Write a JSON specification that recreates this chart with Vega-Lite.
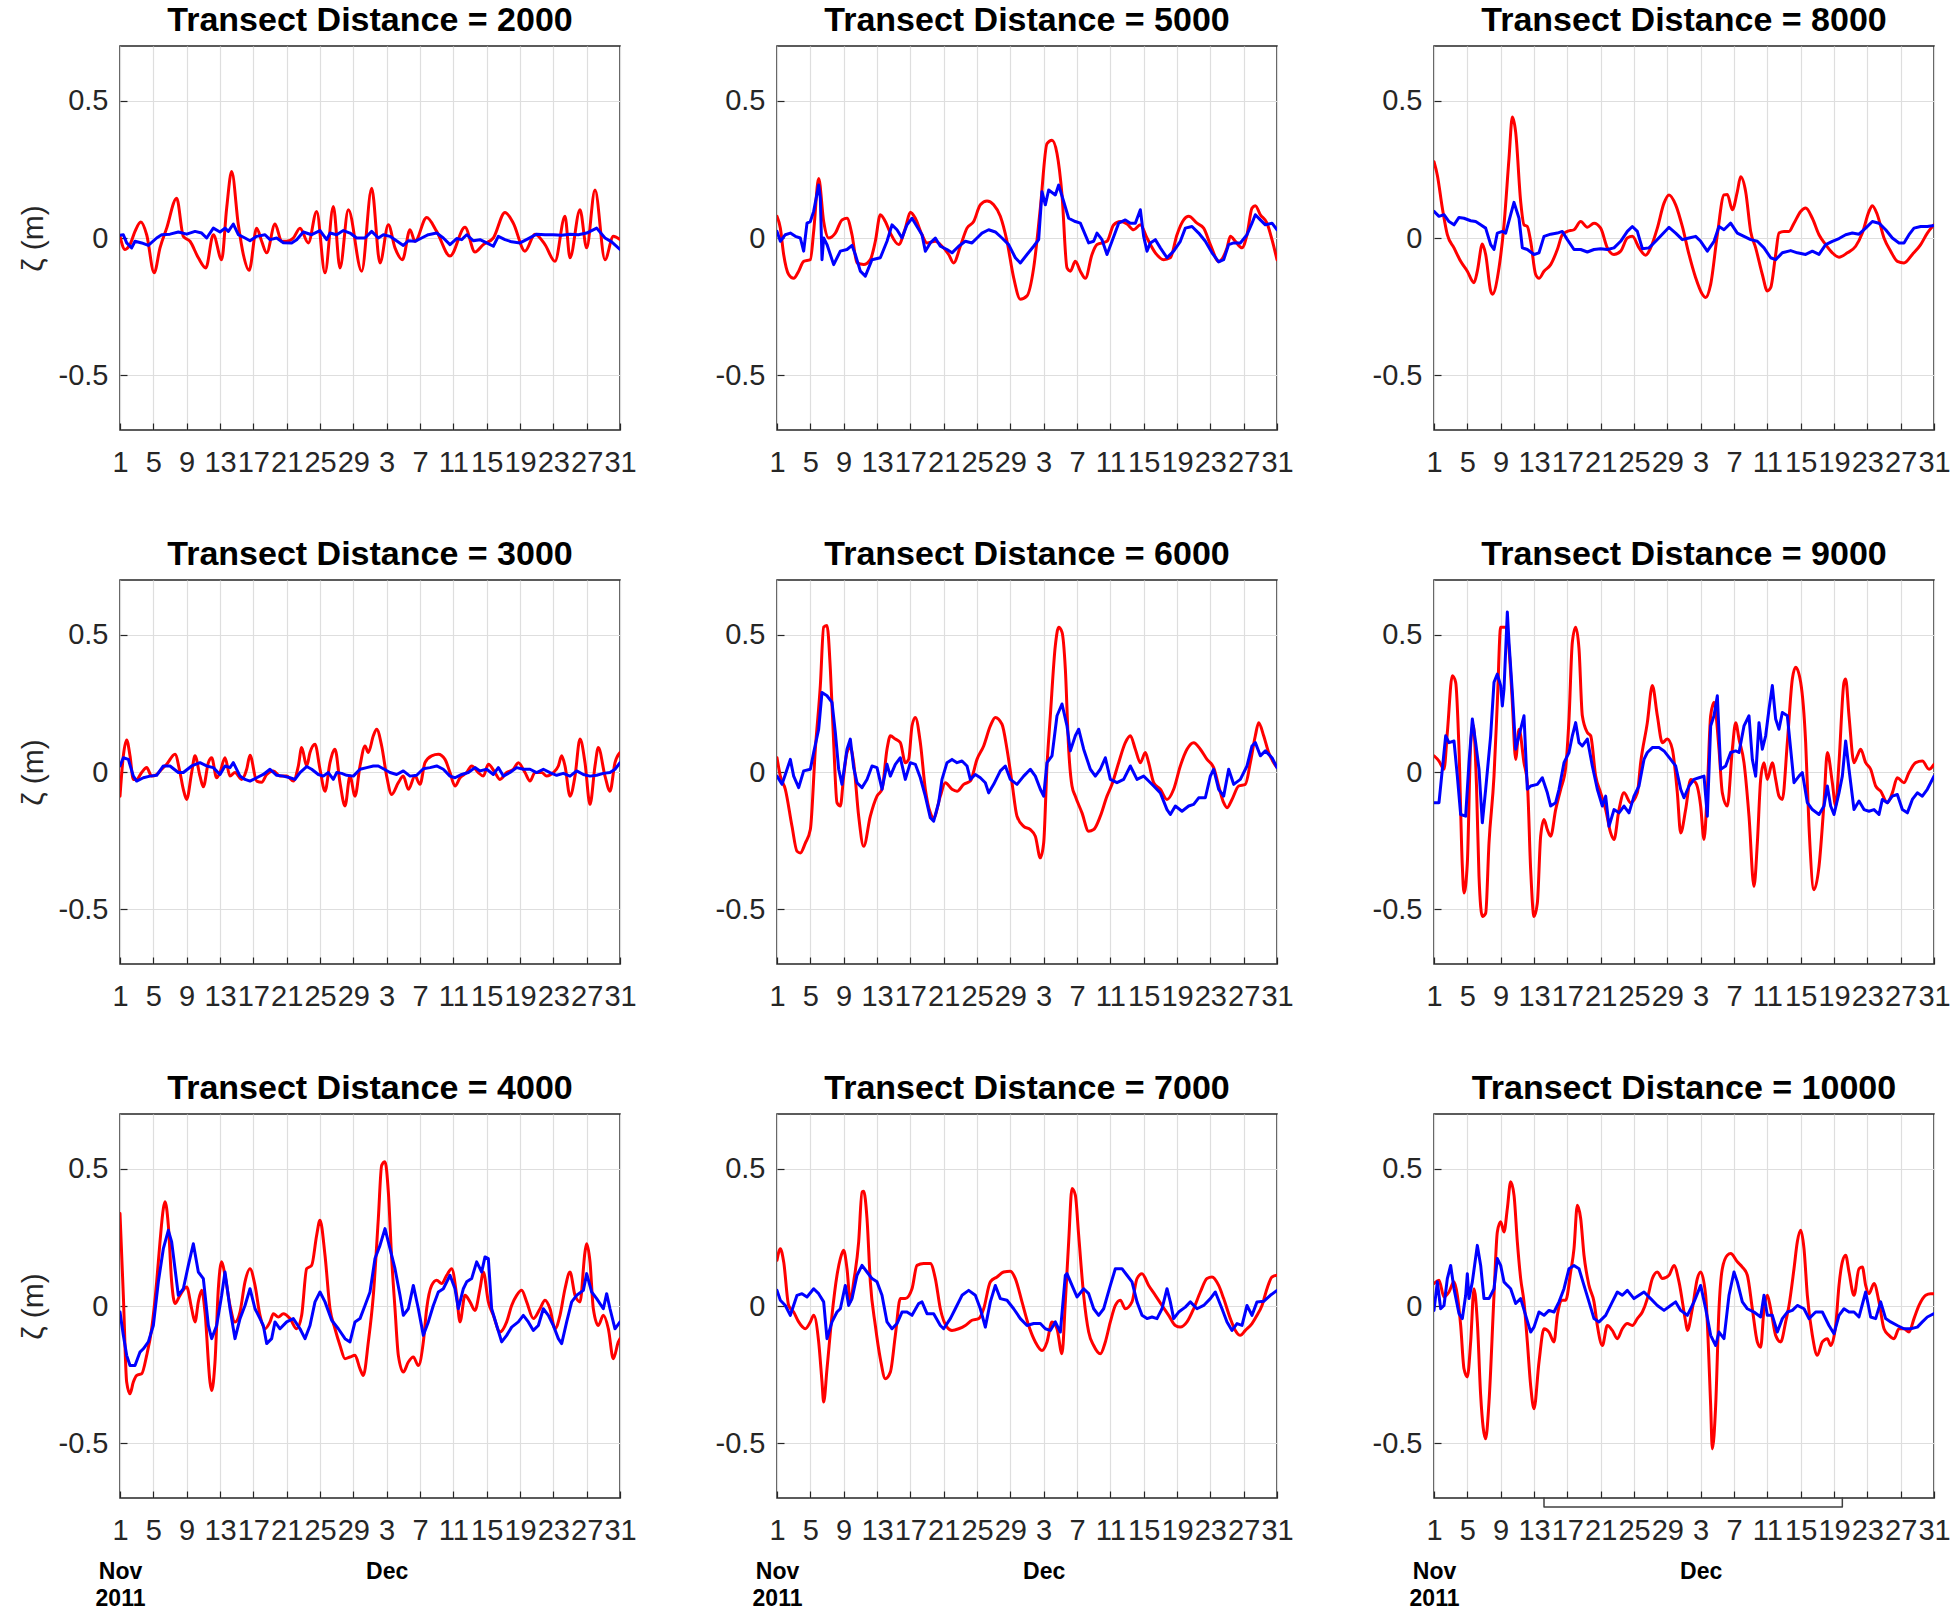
{
  "$schema": "https://vega.github.io/schema/vega-lite/v6.json",
  "padding": {"left": 17, "top": 3, "right": 0, "bottom": 0},
  "bounds": "flush",
  "spacing": {"row": 150, "column": 157},
  "columns": 3,
  "concat": [
    {
      "title": "Transect Distance = 2000",
      "width": 500, "height": 384,
      "encoding": {
        "x": {"field": "t", "type": "quantitative", "scale": {"domain": [0, 60], "nice": false, "zero": false},
              "axis": {"values": [0,4,8,12,16,20,24,28,32,36,40,44,48,52,56,60], "labelExpr": "datum.value < 30 ? datum.value + 1 : datum.value - 29", "title": null, "labelOverlap": false, "labelFlush": false, "labelBound": false, "labelPadding": 25}},
        "y": {"field": "v", "type": "quantitative", "scale": {"domain": [-0.7, 0.7], "nice": false, "zero": false},
              "axis": {"values": [-0.5, 0, 0.5], "labelExpr": "'' + datum.value", "title": "ζ (m)", "titlePadding": 10, "labelPadding": 19}}
      },
      "layer": [
        {"data": {"name": "r2000"}, "mark": {"type": "line", "color": "#ff0000", "strokeWidth": 3, "interpolate": "monotone", "clip": true}},
        {"data": {"name": "b2000"}, "mark": {"type": "line", "color": "#0000ff", "strokeWidth": 3, "clip": true}}
      ]
    },
    {
      "title": "Transect Distance = 5000",
      "width": 500, "height": 384,
      "encoding": {
        "x": {"field": "t", "type": "quantitative", "scale": {"domain": [0, 60], "nice": false, "zero": false},
              "axis": {"values": [0,4,8,12,16,20,24,28,32,36,40,44,48,52,56,60], "labelExpr": "datum.value < 30 ? datum.value + 1 : datum.value - 29", "title": null, "labelOverlap": false, "labelFlush": false, "labelBound": false, "labelPadding": 25}},
        "y": {"field": "v", "type": "quantitative", "scale": {"domain": [-0.7, 0.7], "nice": false, "zero": false},
              "axis": {"values": [-0.5, 0, 0.5], "labelExpr": "'' + datum.value", "title": null, "labelPadding": 19}}
      },
      "layer": [
        {"data": {"name": "r5000"}, "mark": {"type": "line", "color": "#ff0000", "strokeWidth": 3, "interpolate": "monotone", "clip": true}},
        {"data": {"name": "b5000"}, "mark": {"type": "line", "color": "#0000ff", "strokeWidth": 3, "clip": true}}
      ]
    },
    {
      "title": "Transect Distance = 8000",
      "width": 500, "height": 384,
      "encoding": {
        "x": {"field": "t", "type": "quantitative", "scale": {"domain": [0, 60], "nice": false, "zero": false},
              "axis": {"values": [0,4,8,12,16,20,24,28,32,36,40,44,48,52,56,60], "labelExpr": "datum.value < 30 ? datum.value + 1 : datum.value - 29", "title": null, "labelOverlap": false, "labelFlush": false, "labelBound": false, "labelPadding": 25}},
        "y": {"field": "v", "type": "quantitative", "scale": {"domain": [-0.7, 0.7], "nice": false, "zero": false},
              "axis": {"values": [-0.5, 0, 0.5], "labelExpr": "'' + datum.value", "title": null, "labelPadding": 19}}
      },
      "layer": [
        {"data": {"name": "r8000"}, "mark": {"type": "line", "color": "#ff0000", "strokeWidth": 3, "interpolate": "monotone", "clip": true}},
        {"data": {"name": "b8000"}, "mark": {"type": "line", "color": "#0000ff", "strokeWidth": 3, "clip": true}}
      ]
    },
    {
      "title": "Transect Distance = 3000",
      "width": 500, "height": 384,
      "encoding": {
        "x": {"field": "t", "type": "quantitative", "scale": {"domain": [0, 60], "nice": false, "zero": false},
              "axis": {"values": [0,4,8,12,16,20,24,28,32,36,40,44,48,52,56,60], "labelExpr": "datum.value < 30 ? datum.value + 1 : datum.value - 29", "title": null, "labelOverlap": false, "labelFlush": false, "labelBound": false, "labelPadding": 25}},
        "y": {"field": "v", "type": "quantitative", "scale": {"domain": [-0.7, 0.7], "nice": false, "zero": false},
              "axis": {"values": [-0.5, 0, 0.5], "labelExpr": "'' + datum.value", "title": "ζ (m)", "titlePadding": 10, "labelPadding": 19}}
      },
      "layer": [
        {"data": {"name": "r3000"}, "mark": {"type": "line", "color": "#ff0000", "strokeWidth": 3, "interpolate": "monotone", "clip": true}},
        {"data": {"name": "b3000"}, "mark": {"type": "line", "color": "#0000ff", "strokeWidth": 3, "clip": true}}
      ]
    },
    {
      "title": "Transect Distance = 6000",
      "width": 500, "height": 384,
      "encoding": {
        "x": {"field": "t", "type": "quantitative", "scale": {"domain": [0, 60], "nice": false, "zero": false},
              "axis": {"values": [0,4,8,12,16,20,24,28,32,36,40,44,48,52,56,60], "labelExpr": "datum.value < 30 ? datum.value + 1 : datum.value - 29", "title": null, "labelOverlap": false, "labelFlush": false, "labelBound": false, "labelPadding": 25}},
        "y": {"field": "v", "type": "quantitative", "scale": {"domain": [-0.7, 0.7], "nice": false, "zero": false},
              "axis": {"values": [-0.5, 0, 0.5], "labelExpr": "'' + datum.value", "title": null, "labelPadding": 19}}
      },
      "layer": [
        {"data": {"name": "r6000"}, "mark": {"type": "line", "color": "#ff0000", "strokeWidth": 3, "interpolate": "monotone", "clip": true}},
        {"data": {"name": "b6000"}, "mark": {"type": "line", "color": "#0000ff", "strokeWidth": 3, "clip": true}}
      ]
    },
    {
      "title": "Transect Distance = 9000",
      "width": 500, "height": 384,
      "encoding": {
        "x": {"field": "t", "type": "quantitative", "scale": {"domain": [0, 60], "nice": false, "zero": false},
              "axis": {"values": [0,4,8,12,16,20,24,28,32,36,40,44,48,52,56,60], "labelExpr": "datum.value < 30 ? datum.value + 1 : datum.value - 29", "title": null, "labelOverlap": false, "labelFlush": false, "labelBound": false, "labelPadding": 25}},
        "y": {"field": "v", "type": "quantitative", "scale": {"domain": [-0.7, 0.7], "nice": false, "zero": false},
              "axis": {"values": [-0.5, 0, 0.5], "labelExpr": "'' + datum.value", "title": null, "labelPadding": 19}}
      },
      "layer": [
        {"data": {"name": "r9000"}, "mark": {"type": "line", "color": "#ff0000", "strokeWidth": 3, "interpolate": "monotone", "clip": true}},
        {"data": {"name": "b9000"}, "mark": {"type": "line", "color": "#0000ff", "strokeWidth": 3, "clip": true}}
      ]
    },
    {
      "title": "Transect Distance = 4000",
      "width": 500, "height": 384,
      "encoding": {
        "x": {"field": "t", "type": "quantitative", "scale": {"domain": [0, 60], "nice": false, "zero": false},
              "axis": {"values": [0,4,8,12,16,20,24,28,32,36,40,44,48,52,56,60], "labelExpr": "datum.value < 30 ? datum.value + 1 : datum.value - 29", "title": null, "labelOverlap": false, "labelFlush": false, "labelBound": false, "labelPadding": 25}},
        "y": {"field": "v", "type": "quantitative", "scale": {"domain": [-0.7, 0.7], "nice": false, "zero": false},
              "axis": {"values": [-0.5, 0, 0.5], "labelExpr": "'' + datum.value", "title": "ζ (m)", "titlePadding": 10, "labelPadding": 19}}
      },
      "layer": [
        {"data": {"name": "r4000"}, "mark": {"type": "line", "color": "#ff0000", "strokeWidth": 3, "interpolate": "monotone", "clip": true}},
        {"data": {"name": "b4000"}, "mark": {"type": "line", "color": "#0000ff", "strokeWidth": 3, "clip": true},
         "encoding": {"x": {"field": "t", "type": "quantitative", "scale": {"domain": [0, 60], "nice": false, "zero": false},
           "axis": {"orient": "bottom", "values": [0, 32], "labelExpr": "datum.value == 0 ? ['Nov', '2011'] : 'Dec'", "title": null, "grid": false, "ticks": false, "labelFontWeight": "bold", "labelFontSize": 23, "labelColor": "#000000", "labelBaseline": "middle", "labelLineHeight": 27, "offset": 73, "labelPadding": 0, "labelOverlap": false, "labelFlush": false, "labelBound": false}}}}
      ],
      "resolve": {"axis": {"x": "independent"}}
    },
    {
      "title": "Transect Distance = 7000",
      "width": 500, "height": 384,
      "encoding": {
        "x": {"field": "t", "type": "quantitative", "scale": {"domain": [0, 60], "nice": false, "zero": false},
              "axis": {"values": [0,4,8,12,16,20,24,28,32,36,40,44,48,52,56,60], "labelExpr": "datum.value < 30 ? datum.value + 1 : datum.value - 29", "title": null, "labelOverlap": false, "labelFlush": false, "labelBound": false, "labelPadding": 25}},
        "y": {"field": "v", "type": "quantitative", "scale": {"domain": [-0.7, 0.7], "nice": false, "zero": false},
              "axis": {"values": [-0.5, 0, 0.5], "labelExpr": "'' + datum.value", "title": null, "labelPadding": 19}}
      },
      "layer": [
        {"data": {"name": "r7000"}, "mark": {"type": "line", "color": "#ff0000", "strokeWidth": 3, "interpolate": "monotone", "clip": true}},
        {"data": {"name": "b7000"}, "mark": {"type": "line", "color": "#0000ff", "strokeWidth": 3, "clip": true},
         "encoding": {"x": {"field": "t", "type": "quantitative", "scale": {"domain": [0, 60], "nice": false, "zero": false},
           "axis": {"orient": "bottom", "values": [0, 32], "labelExpr": "datum.value == 0 ? ['Nov', '2011'] : 'Dec'", "title": null, "grid": false, "ticks": false, "labelFontWeight": "bold", "labelFontSize": 23, "labelColor": "#000000", "labelBaseline": "middle", "labelLineHeight": 27, "offset": 73, "labelPadding": 0, "labelOverlap": false, "labelFlush": false, "labelBound": false}}}}
      ],
      "resolve": {"axis": {"x": "independent"}}
    },
    {
      "title": "Transect Distance = 10000",
      "width": 500, "height": 384,
      "encoding": {
        "x": {"field": "t", "type": "quantitative", "scale": {"domain": [0, 60], "nice": false, "zero": false},
              "axis": {"values": [0,4,8,12,16,20,24,28,32,36,40,44,48,52,56,60], "labelExpr": "datum.value < 30 ? datum.value + 1 : datum.value - 29", "title": null, "labelOverlap": false, "labelFlush": false, "labelBound": false, "labelPadding": 25}},
        "y": {"field": "v", "type": "quantitative", "scale": {"domain": [-0.7, 0.7], "nice": false, "zero": false},
              "axis": {"values": [-0.5, 0, 0.5], "labelExpr": "'' + datum.value", "title": null, "labelPadding": 19}}
      },
      "layer": [
        {"data": {"name": "r10000"}, "mark": {"type": "line", "color": "#ff0000", "strokeWidth": 3, "interpolate": "monotone", "clip": true}},
        {"data": {"name": "b10000"}, "mark": {"type": "line", "color": "#0000ff", "strokeWidth": 3, "clip": true},
         "encoding": {"x": {"field": "t", "type": "quantitative", "scale": {"domain": [0, 60], "nice": false, "zero": false},
           "axis": {"orient": "bottom", "values": [0, 32], "labelExpr": "datum.value == 0 ? ['Nov', '2011'] : 'Dec'", "title": null, "grid": false, "ticks": false, "labelFontWeight": "bold", "labelFontSize": 23, "labelColor": "#000000", "labelBaseline": "middle", "labelLineHeight": 27, "offset": 73, "labelPadding": 0, "labelOverlap": false, "labelFlush": false, "labelBound": false}}}},
        {"data": {"name": "bracket"}, "mark": {"type": "line", "color": "#404040", "strokeWidth": 1.5, "clip": false},
         "encoding": {
           "x": {"field": "t", "type": "quantitative", "scale": {"domain": [0, 60], "nice": false, "zero": false}, "axis": null},
           "order": {"field": "i"}}}
      ],
      "resolve": {"axis": {"x": "independent"}}
    }
  ],
  "datasets": {
    "bracket": [{"i":1,"t":13.2,"v":-0.7},{"i":2,"t":13.2,"v":-0.733},{"i":3,"t":49,"v":-0.733},{"i":4,"t":49,"v":-0.7}],
    "r2000": [{"t":0,"v":0.006},{"t":0.6,"v":-0.042},{"t":1.2,"v":-0.024},{"t":1.8,"v":0.024},{"t":2.5,"v":0.058},{"t":3.2,"v":0.012},{"t":4.1,"v":-0.127},{"t":4.8,"v":-0.036},{"t":5.6,"v":0.036},{"t":6.8,"v":0.145},{"t":7.6,"v":0.006},{"t":8.4,"v":-0.012},{"t":9.4,"v":-0.072},{"t":10.3,"v":-0.109},{"t":11.2,"v":0.012},{"t":12.2,"v":-0.079},{"t":12.8,"v":0.109},{"t":13.4,"v":0.242},{"t":14.2,"v":0.048},{"t":14.8,"v":-0.06},{"t":15.5,"v":-0.118},{"t":16.4,"v":0.036},{"t":17,"v":-0.012},{"t":17.6,"v":-0.054},{"t":18.6,"v":0.051},{"t":19.4,"v":-0.012},{"t":20,"v":-0.012},{"t":20.8,"v":0},{"t":21.6,"v":0.036},{"t":22.6,"v":-0.018},{"t":23.6,"v":0.097},{"t":24.6,"v":-0.127},{"t":25.6,"v":0.115},{"t":26.4,"v":-0.109},{"t":27.4,"v":0.103},{"t":29,"v":-0.121},{"t":30.2,"v":0.181},{"t":31.2,"v":-0.091},{"t":32.2,"v":0.048},{"t":33,"v":-0.036},{"t":33.9,"v":-0.079},{"t":34.8,"v":0.03},{"t":35.4,"v":-0.012},{"t":36.8,"v":0.075},{"t":38,"v":0.024},{"t":39.6,"v":-0.066},{"t":41.4,"v":0.039},{"t":42.6,"v":-0.051},{"t":43.6,"v":-0.024},{"t":44.8,"v":0},{"t":46.2,"v":0.093},{"t":47.2,"v":0.054},{"t":48.6,"v":-0.048},{"t":49.8,"v":0.014},{"t":51,"v":-0.024},{"t":52.2,"v":-0.085},{"t":53.4,"v":0.079},{"t":54,"v":-0.072},{"t":55.2,"v":0.103},{"t":56,"v":-0.036},{"t":57,"v":0.175},{"t":58.2,"v":-0.079},{"t":59.2,"v":0.006},{"t":60,"v":-0.006}],
    "b2000": [{"t":0,"v":0.01},{"t":0.4,"v":0.012},{"t":0.8,"v":-0.018},{"t":1.4,"v":-0.036},{"t":1.8,"v":-0.012},{"t":2.6,"v":-0.018},{"t":3.4,"v":-0.027},{"t":4.4,"v":0},{"t":5,"v":0.012},{"t":6,"v":0.014},{"t":7,"v":0.022},{"t":8,"v":0.014},{"t":9,"v":0.024},{"t":9.8,"v":0.018},{"t":10.4,"v":0},{"t":11.2,"v":0.036},{"t":12,"v":0.022},{"t":12.6,"v":0.036},{"t":13,"v":0.024},{"t":13.6,"v":0.051},{"t":14.2,"v":0.012},{"t":15,"v":0},{"t":15.6,"v":-0.01},{"t":16.4,"v":0.006},{"t":17.4,"v":0.012},{"t":18,"v":-0.006},{"t":18.8,"v":0},{"t":19.6,"v":-0.017},{"t":20.6,"v":-0.018},{"t":21.2,"v":-0.006},{"t":22,"v":0.022},{"t":23,"v":0.012},{"t":24,"v":0.027},{"t":24.8,"v":-0.006},{"t":25.2,"v":0.018},{"t":26,"v":0.012},{"t":26.8,"v":0.027},{"t":27.6,"v":0.018},{"t":28.4,"v":0},{"t":29.4,"v":0},{"t":30.2,"v":0.024},{"t":31,"v":0},{"t":31.6,"v":0.012},{"t":32.4,"v":0.006},{"t":33,"v":-0.006},{"t":34,"v":-0.027},{"t":34.6,"v":-0.01},{"t":35.4,"v":-0.012},{"t":36.2,"v":0},{"t":37,"v":0.012},{"t":38,"v":0.018},{"t":38.8,"v":0},{"t":39.6,"v":-0.024},{"t":40.4,"v":-0.002},{"t":41,"v":-0.006},{"t":41.6,"v":0.012},{"t":42.4,"v":-0.01},{"t":43.2,"v":-0.006},{"t":44,"v":-0.018},{"t":44.8,"v":-0.03},{"t":45.4,"v":0.006},{"t":46.2,"v":-0.006},{"t":47,"v":-0.014},{"t":48,"v":-0.018},{"t":49,"v":-0.002},{"t":50,"v":0.014},{"t":51,"v":0.012},{"t":52,"v":0.012},{"t":53,"v":0.01},{"t":54,"v":0.014},{"t":55,"v":0.012},{"t":56,"v":0.018},{"t":57.2,"v":0.036},{"t":58.2,"v":0},{"t":59,"v":-0.014},{"t":60,"v":-0.042}],
    "r5000": [{"t":0,"v":0.079},{"t":0.4,"v":0.036},{"t":0.8,"v":-0.06},{"t":1.4,"v":-0.133},{"t":2,"v":-0.147},{"t":2.6,"v":-0.121},{"t":3.2,"v":-0.085},{"t":4,"v":-0.079},{"t":4.4,"v":0.024},{"t":5,"v":0.217},{"t":5.6,"v":0.06},{"t":6.2,"v":0},{"t":7,"v":0.018},{"t":7.8,"v":0.066},{"t":8.4,"v":0.072},{"t":9,"v":0.012},{"t":9.6,"v":-0.091},{"t":10.4,"v":-0.097},{"t":11.2,"v":-0.079},{"t":11.8,"v":-0.012},{"t":12.4,"v":0.085},{"t":13,"v":0.06},{"t":13.6,"v":0.018},{"t":14.6,"v":-0.024},{"t":15.4,"v":0.036},{"t":16,"v":0.094},{"t":16.6,"v":0.072},{"t":17.4,"v":0.012},{"t":18,"v":-0.018},{"t":19,"v":-0.012},{"t":19.6,"v":-0.024},{"t":20.6,"v":-0.06},{"t":21.2,"v":-0.091},{"t":22,"v":-0.03},{"t":22.8,"v":0.036},{"t":23.6,"v":0.06},{"t":24.4,"v":0.121},{"t":25.2,"v":0.135},{"t":26,"v":0.121},{"t":26.8,"v":0.079},{"t":27.6,"v":-0.012},{"t":28.4,"v":-0.145},{"t":29.2,"v":-0.223},{"t":30,"v":-0.211},{"t":30.8,"v":-0.109},{"t":31.6,"v":0.109},{"t":32.4,"v":0.344},{"t":33,"v":0.356},{"t":33.6,"v":0.308},{"t":34.2,"v":0.157},{"t":34.8,"v":-0.109},{"t":35.2,"v":-0.121},{"t":35.8,"v":-0.085},{"t":36.4,"v":-0.121},{"t":37,"v":-0.147},{"t":37.8,"v":-0.06},{"t":38.4,"v":-0.024},{"t":39.6,"v":-0.012},{"t":40.4,"v":0.048},{"t":41.2,"v":0.06},{"t":42,"v":0.051},{"t":42.8,"v":0.03},{"t":43.6,"v":0.048},{"t":44.4,"v":0},{"t":45.4,"v":-0.054},{"t":46.4,"v":-0.079},{"t":47.2,"v":-0.072},{"t":48,"v":0.012},{"t":48.8,"v":0.066},{"t":49.4,"v":0.079},{"t":50.4,"v":0.054},{"t":51.2,"v":0.036},{"t":52,"v":-0.024},{"t":53,"v":-0.085},{"t":54,"v":-0.036},{"t":54.4,"v":0.006},{"t":55,"v":-0.012},{"t":55.8,"v":-0.036},{"t":56.4,"v":0.012},{"t":57,"v":0.109},{"t":57.4,"v":0.118},{"t":58,"v":0.085},{"t":58.8,"v":0.054},{"t":59.4,"v":-0.006},{"t":60,"v":-0.079}],
    "b5000": [{"t":0,"v":0.024},{"t":0.4,"v":-0.012},{"t":1,"v":0.012},{"t":1.6,"v":0.018},{"t":2.2,"v":0.006},{"t":2.8,"v":0},{"t":3.2,"v":-0.048},{"t":3.6,"v":0.054},{"t":4,"v":0.06},{"t":4.4,"v":0.097},{"t":5,"v":0.193},{"t":5.2,"v":0.145},{"t":5.4,"v":-0.079},{"t":5.6,"v":0},{"t":6,"v":-0.024},{"t":6.8,"v":-0.097},{"t":7.6,"v":-0.048},{"t":8.4,"v":-0.042},{"t":9,"v":-0.027},{"t":9.4,"v":-0.06},{"t":10,"v":-0.121},{"t":10.6,"v":-0.139},{"t":11.4,"v":-0.079},{"t":12.4,"v":-0.072},{"t":13.2,"v":-0.012},{"t":13.8,"v":0.048},{"t":14.4,"v":0.03},{"t":15,"v":0},{"t":15.6,"v":0.048},{"t":16.2,"v":0.072},{"t":16.8,"v":0.042},{"t":17.4,"v":0.012},{"t":17.8,"v":-0.048},{"t":18.4,"v":-0.018},{"t":19,"v":0},{"t":19.6,"v":-0.03},{"t":20.4,"v":-0.042},{"t":21,"v":-0.054},{"t":21.8,"v":-0.03},{"t":22.6,"v":-0.012},{"t":23.4,"v":-0.018},{"t":24,"v":0},{"t":24.6,"v":0.018},{"t":25.4,"v":0.03},{"t":26.2,"v":0.022},{"t":27,"v":0},{"t":27.8,"v":-0.024},{"t":28.6,"v":-0.072},{"t":29.2,"v":-0.091},{"t":30,"v":-0.06},{"t":30.8,"v":-0.03},{"t":31.4,"v":-0.006},{"t":31.8,"v":0.169},{"t":32.2,"v":0.121},{"t":32.6,"v":0.175},{"t":33.4,"v":0.157},{"t":33.8,"v":0.193},{"t":34.4,"v":0.133},{"t":35,"v":0.072},{"t":35.8,"v":0.06},{"t":36.4,"v":0.054},{"t":37.4,"v":-0.018},{"t":38,"v":-0.012},{"t":38.4,"v":0.018},{"t":39,"v":-0.006},{"t":39.6,"v":-0.06},{"t":40.2,"v":-0.012},{"t":41,"v":0.054},{"t":41.8,"v":0.066},{"t":42.4,"v":0.054},{"t":43,"v":0.054},{"t":43.6,"v":0.103},{"t":44,"v":0.006},{"t":44.4,"v":-0.048},{"t":44.8,"v":-0.018},{"t":45.4,"v":-0.006},{"t":46,"v":-0.036},{"t":46.8,"v":-0.072},{"t":47.6,"v":-0.048},{"t":48.4,"v":-0.012},{"t":49,"v":0.036},{"t":49.8,"v":0.042},{"t":50.6,"v":0.018},{"t":51.4,"v":-0.012},{"t":52.2,"v":-0.054},{"t":53,"v":-0.087},{"t":53.6,"v":-0.079},{"t":54.2,"v":-0.024},{"t":54.8,"v":-0.018},{"t":55.6,"v":-0.018},{"t":56.4,"v":0.012},{"t":57,"v":0.054},{"t":57.4,"v":0.085},{"t":58,"v":0.066},{"t":58.6,"v":0.048},{"t":59.4,"v":0.054},{"t":60,"v":0.03}],
    "r8000": [{"t":0,"v":0.278},{"t":0.4,"v":0.229},{"t":1,"v":0.109},{"t":1.6,"v":0.012},{"t":2.4,"v":-0.036},{"t":3.2,"v":-0.085},{"t":4,"v":-0.121},{"t":4.8,"v":-0.163},{"t":5.2,"v":-0.121},{"t":5.8,"v":-0.022},{"t":6.2,"v":-0.06},{"t":6.8,"v":-0.193},{"t":7,"v":-0.205},{"t":7.8,"v":-0.109},{"t":8.4,"v":0.048},{"t":9,"v":0.29},{"t":9.4,"v":0.441},{"t":9.8,"v":0.386},{"t":10.4,"v":0.133},{"t":10.8,"v":0.048},{"t":11.2,"v":0.042},{"t":11.6,"v":-0.012},{"t":12.2,"v":-0.133},{"t":12.6,"v":-0.147},{"t":13.2,"v":-0.121},{"t":14,"v":-0.097},{"t":14.8,"v":-0.042},{"t":15.4,"v":0.012},{"t":16,"v":0.024},{"t":16.8,"v":0.03},{"t":17.6,"v":0.06},{"t":18.4,"v":0.039},{"t":19.2,"v":0.054},{"t":20,"v":0.036},{"t":20.8,"v":-0.036},{"t":21.6,"v":-0.06},{"t":22.4,"v":-0.048},{"t":23.2,"v":0},{"t":23.8,"v":0.006},{"t":24.6,"v":-0.036},{"t":25.4,"v":-0.063},{"t":26,"v":-0.036},{"t":26.8,"v":0.036},{"t":27.6,"v":0.127},{"t":28.2,"v":0.157},{"t":29,"v":0.121},{"t":29.8,"v":0.042},{"t":30.6,"v":-0.06},{"t":31.4,"v":-0.145},{"t":32.2,"v":-0.205},{"t":32.6,"v":-0.217},{"t":33.2,"v":-0.169},{"t":34,"v":0.012},{"t":34.8,"v":0.157},{"t":35.2,"v":0.159},{"t":35.8,"v":0.103},{"t":36.4,"v":0.169},{"t":36.8,"v":0.223},{"t":37.4,"v":0.169},{"t":38,"v":0.024},{"t":38.6,"v":-0.036},{"t":39.4,"v":-0.133},{"t":40,"v":-0.193},{"t":40.4,"v":-0.181},{"t":41,"v":-0.06},{"t":41.4,"v":0.018},{"t":42,"v":0.024},{"t":42.6,"v":0.024},{"t":43.2,"v":0.054},{"t":44,"v":0.097},{"t":44.6,"v":0.109},{"t":45.4,"v":0.072},{"t":46.2,"v":0.012},{"t":47,"v":-0.024},{"t":47.8,"v":-0.054},{"t":48.6,"v":-0.07},{"t":49.6,"v":-0.054},{"t":50.6,"v":-0.03},{"t":51.4,"v":0.018},{"t":52.2,"v":0.097},{"t":52.6,"v":0.118},{"t":53.2,"v":0.085},{"t":54,"v":0},{"t":54.8,"v":-0.048},{"t":55.6,"v":-0.085},{"t":56.4,"v":-0.091},{"t":57.4,"v":-0.06},{"t":58.4,"v":-0.024},{"t":59.2,"v":0.018},{"t":60,"v":0.048}],
    "b8000": [{"t":0,"v":0.097},{"t":0.6,"v":0.079},{"t":1.2,"v":0.085},{"t":1.8,"v":0.06},{"t":2.4,"v":0.048},{"t":3,"v":0.075},{"t":3.6,"v":0.072},{"t":4.4,"v":0.063},{"t":5,"v":0.06},{"t":5.6,"v":0.048},{"t":6.2,"v":0.036},{"t":6.8,"v":-0.024},{"t":7.2,"v":-0.042},{"t":7.6,"v":0.018},{"t":8.2,"v":0.024},{"t":8.6,"v":0.018},{"t":9.2,"v":0.085},{"t":9.6,"v":0.13},{"t":10.2,"v":0.072},{"t":10.6,"v":-0.036},{"t":11.2,"v":-0.042},{"t":12,"v":-0.06},{"t":12.6,"v":-0.054},{"t":13.2,"v":0.006},{"t":14,"v":0.014},{"t":14.8,"v":0.018},{"t":15.4,"v":0.024},{"t":16,"v":-0.006},{"t":16.8,"v":-0.042},{"t":17.6,"v":-0.042},{"t":18.4,"v":-0.051},{"t":19.2,"v":-0.042},{"t":20,"v":-0.039},{"t":20.8,"v":-0.042},{"t":21.6,"v":-0.036},{"t":22.4,"v":-0.012},{"t":23.2,"v":0.024},{"t":23.8,"v":0.042},{"t":24.4,"v":0.024},{"t":25,"v":-0.039},{"t":25.8,"v":-0.036},{"t":26.6,"v":-0.012},{"t":27.4,"v":0.014},{"t":28.2,"v":0.039},{"t":29,"v":0.018},{"t":29.8,"v":-0.006},{"t":30.6,"v":0},{"t":31.4,"v":0.006},{"t":32,"v":-0.012},{"t":32.8,"v":-0.048},{"t":33.6,"v":-0.012},{"t":34.2,"v":0.042},{"t":34.8,"v":0.03},{"t":35.6,"v":0.054},{"t":36.4,"v":0.018},{"t":37.2,"v":0.006},{"t":38,"v":-0.006},{"t":38.8,"v":-0.012},{"t":39.6,"v":-0.036},{"t":40.4,"v":-0.072},{"t":41,"v":-0.079},{"t":41.8,"v":-0.054},{"t":42.8,"v":-0.046},{"t":43.6,"v":-0.054},{"t":44.6,"v":-0.06},{"t":45.4,"v":-0.048},{"t":46.2,"v":-0.06},{"t":47,"v":-0.024},{"t":47.8,"v":-0.012},{"t":48.6,"v":-0.002},{"t":49.4,"v":0.012},{"t":50.2,"v":0.018},{"t":51,"v":0.014},{"t":51.8,"v":0.036},{"t":52.6,"v":0.06},{"t":53.4,"v":0.054},{"t":54.2,"v":0.03},{"t":55,"v":0},{"t":55.8,"v":-0.018},{"t":56.4,"v":-0.018},{"t":57,"v":0.012},{"t":57.6,"v":0.036},{"t":58.4,"v":0.042},{"t":59.2,"v":0.042},{"t":60,"v":0.046}],
    "r3000": [{"t":0,"v":-0.088},{"t":0.4,"v":0.059},{"t":0.8,"v":0.117},{"t":1.2,"v":0.059},{"t":1.6,"v":-0.027},{"t":2,"v":-0.027},{"t":2.6,"v":-0.002},{"t":3.2,"v":0.016},{"t":3.8,"v":-0.015},{"t":4.4,"v":-0.009},{"t":5,"v":0.01},{"t":5.6,"v":0.028},{"t":6.6,"v":0.065},{"t":7.2,"v":-0.002},{"t":7.6,"v":-0.063},{"t":8,"v":-0.1},{"t":8.6,"v":-0.002},{"t":9,"v":0.059},{"t":9.6,"v":-0.015},{"t":10,"v":-0.054},{"t":10.6,"v":0.034},{"t":11,"v":0.052},{"t":11.6,"v":-0.021},{"t":12,"v":-0.002},{"t":12.6,"v":0.052},{"t":13.2,"v":-0.015},{"t":13.8,"v":-0.002},{"t":14.6,"v":-0.027},{"t":15.2,"v":0.01},{"t":15.6,"v":0.061},{"t":16.4,"v":-0.033},{"t":17,"v":-0.037},{"t":17.6,"v":-0.009},{"t":18.4,"v":0.004},{"t":19.2,"v":-0.015},{"t":20,"v":-0.015},{"t":20.8,"v":-0.033},{"t":21.4,"v":0.022},{"t":21.8,"v":0.089},{"t":22.4,"v":0.022},{"t":22.8,"v":0.071},{"t":23.4,"v":0.101},{"t":24,"v":0.01},{"t":24.6,"v":-0.07},{"t":25.2,"v":0.034},{"t":25.8,"v":0.083},{"t":26.4,"v":-0.039},{"t":27,"v":-0.124},{"t":27.6,"v":-0.015},{"t":28.2,"v":-0.088},{"t":28.8,"v":0.022},{"t":29.4,"v":0.095},{"t":29.8,"v":0.071},{"t":30.4,"v":0.132},{"t":30.8,"v":0.156},{"t":31.4,"v":0.095},{"t":32,"v":-0.015},{"t":32.6,"v":-0.082},{"t":33.4,"v":-0.039},{"t":34,"v":-0.015},{"t":34.6,"v":-0.063},{"t":35.4,"v":-0.015},{"t":36,"v":-0.045},{"t":36.6,"v":0.034},{"t":37.4,"v":0.059},{"t":38.2,"v":0.065},{"t":39,"v":0.046},{"t":39.6,"v":-0.002},{"t":40.2,"v":-0.051},{"t":40.8,"v":-0.021},{"t":41.6,"v":-0.002},{"t":42.2,"v":0.022},{"t":43,"v":-0.002},{"t":43.6,"v":-0.015},{"t":44.2,"v":0.028},{"t":45,"v":-0.002},{"t":45.6,"v":-0.027},{"t":46.4,"v":-0.002},{"t":47.2,"v":0.01},{"t":47.8,"v":0.034},{"t":48.6,"v":-0.002},{"t":49.2,"v":-0.033},{"t":49.8,"v":-0.002},{"t":50.6,"v":-0.002},{"t":51.2,"v":-0.015},{"t":52,"v":-0.002},{"t":52.6,"v":0.022},{"t":53,"v":0.059},{"t":53.4,"v":0.022},{"t":54,"v":-0.088},{"t":54.6,"v":-0.015},{"t":55.2,"v":0.12},{"t":55.8,"v":0.034},{"t":56.4,"v":-0.118},{"t":57,"v":0.022},{"t":57.4,"v":0.089},{"t":58.2,"v":-0.015},{"t":58.8,"v":-0.07},{"t":59.4,"v":0.034},{"t":60,"v":0.071}],
    "b3000": [{"t":0,"v":0.022},{"t":0.4,"v":0.052},{"t":1,"v":0.046},{"t":1.6,"v":-0.015},{"t":2,"v":-0.033},{"t":2.8,"v":-0.021},{"t":3.6,"v":-0.015},{"t":4.4,"v":-0.012},{"t":5.2,"v":0.022},{"t":6,"v":0.022},{"t":7,"v":-0.002},{"t":7.6,"v":-0.002},{"t":8.6,"v":0.022},{"t":9.6,"v":0.034},{"t":10.4,"v":0.022},{"t":11.2,"v":0.016},{"t":12,"v":-0.009},{"t":12.6,"v":0.022},{"t":13.2,"v":0.016},{"t":13.6,"v":0.034},{"t":14.4,"v":-0.015},{"t":15,"v":-0.027},{"t":15.6,"v":-0.033},{"t":16.4,"v":-0.021},{"t":17.2,"v":-0.009},{"t":18,"v":0.01},{"t":18.8,"v":-0.012},{"t":19.6,"v":-0.015},{"t":20.4,"v":-0.021},{"t":21,"v":-0.027},{"t":21.6,"v":-0.002},{"t":22.4,"v":0.02},{"t":23,"v":0.01},{"t":23.8,"v":-0.009},{"t":24.4,"v":-0.015},{"t":25,"v":-0.002},{"t":25.6,"v":-0.027},{"t":26,"v":-0.002},{"t":26.6,"v":-0.005},{"t":27.2,"v":-0.012},{"t":28,"v":-0.015},{"t":28.8,"v":0.01},{"t":29.6,"v":0.016},{"t":30.4,"v":0.022},{"t":31,"v":0.022},{"t":31.6,"v":0.012},{"t":32.4,"v":-0.002},{"t":33.2,"v":-0.009},{"t":34,"v":0.004},{"t":34.8,"v":-0.015},{"t":35.6,"v":-0.012},{"t":36.4,"v":0.012},{"t":37.2,"v":0.016},{"t":38,"v":0.022},{"t":38.8,"v":0.01},{"t":39.6,"v":-0.015},{"t":40.2,"v":-0.021},{"t":41,"v":-0.009},{"t":41.8,"v":-0.002},{"t":42.6,"v":0.016},{"t":43.2,"v":0.004},{"t":44,"v":0.01},{"t":44.8,"v":-0.009},{"t":45.4,"v":0.016},{"t":46,"v":-0.015},{"t":46.8,"v":-0.002},{"t":47.6,"v":0.016},{"t":48.4,"v":0.01},{"t":49.2,"v":0.01},{"t":50,"v":-0.002},{"t":50.8,"v":0.01},{"t":51.6,"v":-0.002},{"t":52.4,"v":-0.012},{"t":53.2,"v":-0.005},{"t":54,"v":-0.015},{"t":54.8,"v":0.004},{"t":55.6,"v":-0.009},{"t":56.4,"v":-0.015},{"t":57.2,"v":-0.012},{"t":58,"v":-0.005},{"t":58.8,"v":-0.002},{"t":59.4,"v":0.01},{"t":60,"v":0.034}],
    "r6000": [{"t":0,"v":0.052},{"t":0.4,"v":-0.015},{"t":1,"v":-0.063},{"t":1.8,"v":-0.198},{"t":2.4,"v":-0.289},{"t":2.8,"v":-0.295},{"t":3.4,"v":-0.259},{"t":4,"v":-0.21},{"t":4.6,"v":0.083},{"t":5.2,"v":0.315},{"t":5.6,"v":0.528},{"t":6,"v":0.534},{"t":6.4,"v":0.376},{"t":6.8,"v":0.107},{"t":7.2,"v":-0.112},{"t":7.6,"v":-0.124},{"t":8,"v":-0.015},{"t":8.4,"v":0.071},{"t":8.8,"v":0.089},{"t":9.2,"v":0.034},{"t":9.8,"v":-0.161},{"t":10.4,"v":-0.271},{"t":11.2,"v":-0.161},{"t":12,"v":-0.088},{"t":12.6,"v":-0.063},{"t":13.2,"v":0.083},{"t":13.6,"v":0.132},{"t":14.2,"v":0.12},{"t":14.8,"v":0.107},{"t":15.4,"v":0.034},{"t":15.8,"v":0.046},{"t":16.2,"v":0.168},{"t":16.6,"v":0.199},{"t":17.2,"v":0.107},{"t":17.8,"v":-0.063},{"t":18.4,"v":-0.149},{"t":18.8,"v":-0.167},{"t":19.6,"v":-0.088},{"t":20.2,"v":-0.039},{"t":21,"v":-0.063},{"t":21.6,"v":-0.07},{"t":22.4,"v":-0.045},{"t":23.2,"v":-0.033},{"t":24,"v":0.046},{"t":24.8,"v":0.095},{"t":25.6,"v":0.168},{"t":26.2,"v":0.199},{"t":27,"v":0.174},{"t":27.6,"v":0.083},{"t":28.2,"v":-0.039},{"t":28.8,"v":-0.161},{"t":29.6,"v":-0.198},{"t":30.4,"v":-0.21},{"t":31,"v":-0.234},{"t":31.6,"v":-0.313},{"t":32,"v":-0.259},{"t":32.4,"v":0.022},{"t":32.8,"v":0.205},{"t":33.4,"v":0.461},{"t":33.8,"v":0.528},{"t":34.2,"v":0.51},{"t":34.6,"v":0.376},{"t":35,"v":0.083},{"t":35.4,"v":-0.051},{"t":35.8,"v":-0.088},{"t":36.6,"v":-0.149},{"t":37.4,"v":-0.216},{"t":38,"v":-0.21},{"t":38.8,"v":-0.161},{"t":39.6,"v":-0.088},{"t":40.2,"v":-0.045},{"t":41,"v":0.034},{"t":41.8,"v":0.107},{"t":42.4,"v":0.132},{"t":43,"v":0.083},{"t":43.6,"v":0.034},{"t":44.2,"v":0.071},{"t":44.6,"v":0.034},{"t":45.2,"v":-0.039},{"t":46,"v":-0.063},{"t":46.8,"v":-0.1},{"t":47.6,"v":-0.063},{"t":48.4,"v":0.022},{"t":49.2,"v":0.083},{"t":50,"v":0.107},{"t":50.8,"v":0.083},{"t":51.6,"v":0.046},{"t":52.4,"v":0.016},{"t":53,"v":-0.051},{"t":53.6,"v":-0.112},{"t":54,"v":-0.13},{"t":54.6,"v":-0.1},{"t":55.4,"v":-0.051},{"t":56.2,"v":-0.045},{"t":56.8,"v":0.034},{"t":57.4,"v":0.132},{"t":57.8,"v":0.18},{"t":58.4,"v":0.132},{"t":59,"v":0.071},{"t":59.6,"v":0.034},{"t":60,"v":0.016}],
    "b6000": [{"t":0,"v":-0.015},{"t":0.6,"v":-0.045},{"t":1,"v":-0.009},{"t":1.6,"v":0.046},{"t":2,"v":-0.015},{"t":2.6,"v":-0.057},{"t":3.2,"v":0.004},{"t":4,"v":0.01},{"t":4.4,"v":0.071},{"t":5,"v":0.156},{"t":5.4,"v":0.29},{"t":6,"v":0.278},{"t":6.6,"v":0.254},{"t":7,"v":0.144},{"t":7.4,"v":0.01},{"t":7.8,"v":-0.045},{"t":8.4,"v":0.083},{"t":8.8,"v":0.12},{"t":9.2,"v":0.016},{"t":9.6,"v":-0.039},{"t":10.2,"v":-0.057},{"t":10.8,"v":-0.027},{"t":11.4,"v":0.022},{"t":12,"v":0.016},{"t":12.6,"v":-0.063},{"t":13.2,"v":0.028},{"t":13.6,"v":-0.015},{"t":14.2,"v":0.028},{"t":14.8,"v":0.052},{"t":15.4,"v":-0.027},{"t":16,"v":0.034},{"t":16.6,"v":0.028},{"t":17.2,"v":-0.021},{"t":17.8,"v":-0.088},{"t":18.4,"v":-0.167},{"t":18.8,"v":-0.179},{"t":19.4,"v":-0.112},{"t":19.8,"v":-0.027},{"t":20.4,"v":0.034},{"t":21,"v":0.046},{"t":21.6,"v":0.034},{"t":22.2,"v":0.04},{"t":22.8,"v":0.022},{"t":23.2,"v":-0.027},{"t":23.8,"v":-0.009},{"t":24.4,"v":-0.021},{"t":25,"v":-0.039},{"t":25.4,"v":-0.076},{"t":26,"v":-0.045},{"t":26.8,"v":0.004},{"t":27.4,"v":0.022},{"t":28,"v":-0.027},{"t":28.8,"v":-0.045},{"t":29.6,"v":-0.015},{"t":30.4,"v":0.01},{"t":31,"v":-0.015},{"t":31.6,"v":-0.063},{"t":32,"v":-0.088},{"t":32.4,"v":0.034},{"t":33,"v":0.059},{"t":33.6,"v":0.205},{"t":34.2,"v":0.248},{"t":34.8,"v":0.168},{"t":35.2,"v":0.077},{"t":35.8,"v":0.132},{"t":36.2,"v":0.156},{"t":36.8,"v":0.083},{"t":37.6,"v":0.01},{"t":38.2,"v":-0.015},{"t":38.8,"v":0.01},{"t":39.4,"v":0.052},{"t":40,"v":-0.027},{"t":40.8,"v":-0.039},{"t":41.6,"v":-0.027},{"t":42.4,"v":0.022},{"t":43.2,"v":-0.027},{"t":44,"v":-0.015},{"t":44.6,"v":-0.033},{"t":45.2,"v":-0.051},{"t":46,"v":-0.076},{"t":46.8,"v":-0.137},{"t":47.2,"v":-0.155},{"t":47.8,"v":-0.124},{"t":48.6,"v":-0.143},{"t":49.4,"v":-0.124},{"t":50,"v":-0.118},{"t":50.6,"v":-0.094},{"t":51.4,"v":-0.094},{"t":52,"v":-0.015},{"t":52.4,"v":0.01},{"t":53,"v":-0.063},{"t":53.6,"v":-0.088},{"t":54.2,"v":0.01},{"t":54.8,"v":-0.045},{"t":55.6,"v":-0.027},{"t":56.4,"v":0.022},{"t":57,"v":0.095},{"t":57.4,"v":0.107},{"t":58,"v":0.059},{"t":58.6,"v":0.077},{"t":59.4,"v":0.052},{"t":60,"v":0.016}],
    "r9000": [{"t":0,"v":0.059},{"t":0.6,"v":0.04},{"t":1.2,"v":0.01},{"t":1.6,"v":0.144},{"t":2.2,"v":0.351},{"t":2.6,"v":0.327},{"t":3,"v":0.083},{"t":3.4,"v":-0.344},{"t":3.6,"v":-0.441},{"t":4,"v":-0.332},{"t":4.4,"v":0.1},{"t":4.7,"v":0.17},{"t":5.1,"v":-0.05},{"t":5.4,"v":-0.38},{"t":5.8,"v":-0.527},{"t":6.2,"v":-0.515},{"t":6.6,"v":-0.259},{"t":7.2,"v":-0.015},{"t":7.6,"v":0.254},{"t":8,"v":0.528},{"t":8.6,"v":0.528},{"t":9,"v":0.449},{"t":9.4,"v":0.254},{"t":9.8,"v":0.046},{"t":10.2,"v":0.156},{"t":10.8,"v":0.034},{"t":11.2,"v":-0.039},{"t":11.6,"v":-0.356},{"t":12,"v":-0.527},{"t":12.4,"v":-0.478},{"t":12.8,"v":-0.234},{"t":13.2,"v":-0.173},{"t":13.6,"v":-0.21},{"t":14,"v":-0.234},{"t":14.6,"v":-0.137},{"t":15.2,"v":-0.063},{"t":15.8,"v":0.016},{"t":16.2,"v":0.193},{"t":16.6,"v":0.473},{"t":17,"v":0.528},{"t":17.4,"v":0.449},{"t":17.8,"v":0.205},{"t":18.4,"v":0.144},{"t":18.8,"v":0.132},{"t":19.4,"v":-0.015},{"t":20,"v":-0.076},{"t":20.6,"v":-0.137},{"t":21.2,"v":-0.222},{"t":21.6,"v":-0.246},{"t":22.2,"v":-0.137},{"t":22.8,"v":-0.076},{"t":23.6,"v":-0.112},{"t":24.4,"v":-0.076},{"t":24.8,"v":0.034},{"t":25.6,"v":0.18},{"t":26.2,"v":0.315},{"t":26.8,"v":0.205},{"t":27.4,"v":0.107},{"t":28,"v":0.12},{"t":28.6,"v":0.083},{"t":29.2,"v":-0.076},{"t":29.6,"v":-0.222},{"t":30.2,"v":-0.137},{"t":30.8,"v":-0.027},{"t":31.4,"v":-0.039},{"t":32,"v":-0.124},{"t":32.4,"v":-0.246},{"t":32.8,"v":-0.063},{"t":33.2,"v":0.205},{"t":33.6,"v":0.254},{"t":34.2,"v":0.083},{"t":34.6,"v":-0.076},{"t":35.2,"v":-0.124},{"t":35.8,"v":0.083},{"t":36.2,"v":0.18},{"t":36.6,"v":0.12},{"t":37.2,"v":0.034},{"t":37.8,"v":-0.161},{"t":38.4,"v":-0.417},{"t":38.8,"v":-0.259},{"t":39.2,"v":-0.027},{"t":39.6,"v":0.034},{"t":40,"v":-0.027},{"t":40.6,"v":0.034},{"t":41,"v":-0.027},{"t":41.4,"v":-0.088},{"t":41.8,"v":-0.1},{"t":42.4,"v":0.107},{"t":43,"v":0.339},{"t":43.4,"v":0.382},{"t":44,"v":0.327},{"t":44.6,"v":0.107},{"t":45,"v":-0.198},{"t":45.6,"v":-0.429},{"t":46.2,"v":-0.344},{"t":46.8,"v":-0.112},{"t":47.2,"v":0.071},{"t":47.8,"v":-0.039},{"t":48.2,"v":-0.124},{"t":48.6,"v":0.034},{"t":49.2,"v":0.327},{"t":49.4,"v":0.339},{"t":49.8,"v":0.205},{"t":50.4,"v":0.034},{"t":50.8,"v":0.059},{"t":51.2,"v":0.083},{"t":51.8,"v":0.034},{"t":52.4,"v":0.01},{"t":53,"v":-0.051},{"t":53.6,"v":-0.07},{"t":54.4,"v":-0.112},{"t":55,"v":-0.076},{"t":55.6,"v":-0.021},{"t":56.4,"v":-0.039},{"t":57,"v":-0.002},{"t":57.8,"v":0.034},{"t":58.6,"v":0.04},{"t":59.4,"v":0.01},{"t":60,"v":0.028}],
    "b9000": [{"t":0,"v":-0.112},{"t":0.6,"v":-0.112},{"t":1,"v":0.01},{"t":1.4,"v":0.132},{"t":1.8,"v":0.107},{"t":2.4,"v":0.113},{"t":2.8,"v":-0.015},{"t":3.2,"v":-0.155},{"t":3.8,"v":-0.161},{"t":4.2,"v":0.034},{"t":4.6,"v":0.193},{"t":5,"v":0.107},{"t":5.4,"v":0.01},{"t":5.8,"v":-0.185},{"t":6.2,"v":-0.063},{"t":6.8,"v":0.132},{"t":7.2,"v":0.327},{"t":7.6,"v":0.357},{"t":8,"v":0.315},{"t":8.2,"v":0.241},{"t":8.4,"v":0.302},{"t":8.8,"v":0.583},{"t":9,"v":0.473},{"t":9.4,"v":0.29},{"t":9.8,"v":0.083},{"t":10.4,"v":0.156},{"t":10.8,"v":0.205},{"t":11.2,"v":-0.063},{"t":11.6,"v":-0.051},{"t":12.4,"v":-0.045},{"t":13,"v":-0.021},{"t":13.6,"v":-0.076},{"t":14,"v":-0.124},{"t":14.6,"v":-0.112},{"t":15,"v":-0.063},{"t":15.6,"v":0.034},{"t":16.2,"v":0.071},{"t":16.6,"v":0.132},{"t":17,"v":0.18},{"t":17.4,"v":0.107},{"t":17.8,"v":0.095},{"t":18.4,"v":0.12},{"t":19,"v":0.022},{"t":19.6,"v":-0.063},{"t":20.2,"v":-0.124},{"t":20.6,"v":-0.088},{"t":21,"v":-0.198},{"t":21.6,"v":-0.137},{"t":22.2,"v":-0.149},{"t":22.8,"v":-0.124},{"t":23.4,"v":-0.149},{"t":24,"v":-0.088},{"t":24.6,"v":-0.051},{"t":25.2,"v":0.046},{"t":25.6,"v":0.071},{"t":26.2,"v":0.089},{"t":27,"v":0.089},{"t":27.6,"v":0.077},{"t":28.4,"v":0.046},{"t":29,"v":0.022},{"t":29.6,"v":-0.063},{"t":30,"v":-0.094},{"t":30.6,"v":-0.051},{"t":31.2,"v":-0.027},{"t":31.8,"v":-0.021},{"t":32.4,"v":-0.015},{"t":32.8,"v":-0.161},{"t":33.2,"v":0.168},{"t":33.6,"v":0.205},{"t":34,"v":0.278},{"t":34.4,"v":0.01},{"t":35,"v":0.022},{"t":35.6,"v":0.071},{"t":36.2,"v":0.077},{"t":36.6,"v":0.071},{"t":37.2,"v":0.168},{"t":37.8,"v":0.205},{"t":38.2,"v":0.046},{"t":38.6,"v":-0.015},{"t":39,"v":0.18},{"t":39.4,"v":0.083},{"t":39.8,"v":0.132},{"t":40.2,"v":0.229},{"t":40.6,"v":0.315},{"t":41,"v":0.193},{"t":41.4,"v":0.156},{"t":41.8,"v":0.217},{"t":42.4,"v":0.205},{"t":42.8,"v":0.083},{"t":43.2,"v":-0.039},{"t":43.8,"v":-0.015},{"t":44.2,"v":-0.002},{"t":44.8,"v":-0.112},{"t":45.4,"v":-0.137},{"t":46.2,"v":-0.155},{"t":46.8,"v":-0.124},{"t":47.2,"v":-0.051},{"t":47.6,"v":-0.124},{"t":48,"v":-0.155},{"t":48.6,"v":-0.076},{"t":49,"v":-0.015},{"t":49.4,"v":0.113},{"t":49.8,"v":0.01},{"t":50.4,"v":-0.137},{"t":51,"v":-0.106},{"t":51.6,"v":-0.137},{"t":52.2,"v":-0.143},{"t":52.8,"v":-0.137},{"t":53.4,"v":-0.155},{"t":53.8,"v":-0.1},{"t":54.4,"v":-0.112},{"t":55,"v":-0.088},{"t":55.6,"v":-0.082},{"t":56.2,"v":-0.137},{"t":56.8,"v":-0.149},{"t":57.4,"v":-0.1},{"t":58,"v":-0.076},{"t":58.6,"v":-0.088},{"t":59.2,"v":-0.063},{"t":60,"v":-0.015}],
    "r4000": [{"t":0,"v":0.337},{"t":0.4,"v":0.039},{"t":0.8,"v":-0.277},{"t":1.2,"v":-0.32},{"t":1.6,"v":-0.277},{"t":2,"v":-0.253},{"t":2.6,"v":-0.247},{"t":3.2,"v":-0.18},{"t":3.8,"v":-0.083},{"t":4.4,"v":0.088},{"t":4.8,"v":0.234},{"t":5.2,"v":0.355},{"t":5.4,"v":0.38},{"t":5.8,"v":0.294},{"t":6.2,"v":0.088},{"t":6.6,"v":0.009},{"t":7.2,"v":0.039},{"t":8,"v":0.069},{"t":8.6,"v":-0.01},{"t":9,"v":-0.058},{"t":9.4,"v":0.015},{"t":9.8,"v":0.057},{"t":10.2,"v":-0.022},{"t":10.8,"v":-0.277},{"t":11,"v":-0.308},{"t":11.4,"v":-0.204},{"t":11.8,"v":0.063},{"t":12.2,"v":0.161},{"t":12.6,"v":0.112},{"t":13.2,"v":0.002},{"t":13.8,"v":-0.058},{"t":14.4,"v":-0.022},{"t":15,"v":0.088},{"t":15.6,"v":0.136},{"t":16.2,"v":0.075},{"t":16.8,"v":-0.034},{"t":17.4,"v":-0.083},{"t":18,"v":-0.058},{"t":18.4,"v":-0.028},{"t":19,"v":-0.04},{"t":19.6,"v":-0.028},{"t":20.4,"v":-0.046},{"t":21.2,"v":-0.083},{"t":21.8,"v":-0.034},{"t":22.4,"v":0.136},{"t":23,"v":0.148},{"t":23.6,"v":0.258},{"t":24,"v":0.313},{"t":24.6,"v":0.185},{"t":25.2,"v":-0.01},{"t":25.8,"v":-0.083},{"t":26.4,"v":-0.144},{"t":27,"v":-0.192},{"t":27.6,"v":-0.186},{"t":28.2,"v":-0.18},{"t":28.8,"v":-0.229},{"t":29.2,"v":-0.253},{"t":29.8,"v":-0.131},{"t":30.4,"v":0.039},{"t":31,"v":0.319},{"t":31.4,"v":0.513},{"t":31.8,"v":0.526},{"t":32.2,"v":0.416},{"t":32.6,"v":0.173},{"t":33,"v":-0.01},{"t":33.4,"v":-0.18},{"t":34,"v":-0.241},{"t":34.6,"v":-0.204},{"t":35.2,"v":-0.186},{"t":35.8,"v":-0.217},{"t":36.4,"v":-0.131},{"t":36.8,"v":-0.01},{"t":37.4,"v":0.075},{"t":38,"v":0.094},{"t":38.6,"v":0.082},{"t":39.2,"v":0.112},{"t":39.8,"v":0.136},{"t":40.4,"v":0.039},{"t":40.8,"v":-0.058},{"t":41.4,"v":0.039},{"t":42,"v":0.015},{"t":42.6,"v":-0.016},{"t":43.2,"v":0.063},{"t":43.6,"v":0.124},{"t":44.2,"v":0.015},{"t":44.8,"v":-0.034},{"t":45.6,"v":-0.095},{"t":46.4,"v":-0.058},{"t":47,"v":0.002},{"t":47.6,"v":0.039},{"t":48.2,"v":0.057},{"t":48.8,"v":0.015},{"t":49.6,"v":-0.046},{"t":50.4,"v":-0.01},{"t":51,"v":0.021},{"t":51.6,"v":-0.01},{"t":52.2,"v":-0.083},{"t":52.8,"v":-0.034},{"t":53.4,"v":0.063},{"t":54,"v":0.124},{"t":54.6,"v":0.039},{"t":55.2,"v":0.015},{"t":55.8,"v":0.197},{"t":56,"v":0.227},{"t":56.4,"v":0.161},{"t":56.8,"v":-0.01},{"t":57.4,"v":-0.071},{"t":58,"v":-0.034},{"t":58.6,"v":-0.083},{"t":59.2,"v":-0.192},{"t":59.8,"v":-0.131},{"t":60,"v":-0.119}],
    "b4000": [{"t":0,"v":-0.022},{"t":0.4,"v":-0.107},{"t":0.8,"v":-0.18},{"t":1.2,"v":-0.217},{"t":1.8,"v":-0.217},{"t":2.4,"v":-0.168},{"t":2.8,"v":-0.156},{"t":3.4,"v":-0.131},{"t":4,"v":-0.071},{"t":4.6,"v":0.088},{"t":5.2,"v":0.209},{"t":5.8,"v":0.276},{"t":6.2,"v":0.234},{"t":6.6,"v":0.136},{"t":7,"v":0.039},{"t":7.6,"v":0.063},{"t":8.2,"v":0.148},{"t":8.8,"v":0.227},{"t":9.4,"v":0.124},{"t":10,"v":0.1},{"t":10.6,"v":-0.071},{"t":11,"v":-0.119},{"t":11.6,"v":-0.071},{"t":12.2,"v":0.039},{"t":12.6,"v":0.124},{"t":13.2,"v":-0.01},{"t":13.8,"v":-0.119},{"t":14.4,"v":-0.046},{"t":15,"v":0.002},{"t":15.6,"v":0.063},{"t":16.2,"v":-0.01},{"t":16.8,"v":-0.046},{"t":17.2,"v":-0.071},{"t":17.6,"v":-0.137},{"t":18.2,"v":-0.119},{"t":18.6,"v":-0.058},{"t":19.2,"v":-0.083},{"t":20,"v":-0.058},{"t":20.8,"v":-0.046},{"t":21.6,"v":-0.083},{"t":22.2,"v":-0.119},{"t":22.8,"v":-0.071},{"t":23.4,"v":0.015},{"t":24,"v":0.051},{"t":24.6,"v":0.015},{"t":25.4,"v":-0.052},{"t":26.2,"v":-0.083},{"t":27,"v":-0.119},{"t":27.6,"v":-0.131},{"t":28.2,"v":-0.058},{"t":28.8,"v":-0.046},{"t":29.4,"v":0.002},{"t":30,"v":0.051},{"t":30.6,"v":0.173},{"t":31.2,"v":0.221},{"t":31.8,"v":0.282},{"t":32.4,"v":0.209},{"t":33,"v":0.136},{"t":33.6,"v":0.039},{"t":34,"v":-0.034},{"t":34.6,"v":-0.01},{"t":35.2,"v":0.075},{"t":35.8,"v":-0.01},{"t":36.4,"v":-0.107},{"t":37,"v":-0.058},{"t":37.6,"v":0.002},{"t":38.2,"v":0.051},{"t":38.8,"v":0.063},{"t":39.6,"v":0.112},{"t":40.2,"v":0.063},{"t":40.6,"v":-0.01},{"t":41.2,"v":0.063},{"t":41.6,"v":0.088},{"t":42.2,"v":0.1},{"t":42.8,"v":0.161},{"t":43.4,"v":0.124},{"t":43.8,"v":0.179},{"t":44.2,"v":0.173},{"t":44.6,"v":-0.01},{"t":45.2,"v":-0.071},{"t":45.8,"v":-0.131},{"t":46.4,"v":-0.107},{"t":47,"v":-0.077},{"t":47.8,"v":-0.058},{"t":48.4,"v":-0.034},{"t":49,"v":-0.058},{"t":49.6,"v":-0.089},{"t":50.2,"v":-0.071},{"t":50.8,"v":-0.01},{"t":51.4,"v":-0.034},{"t":52,"v":-0.071},{"t":52.6,"v":-0.119},{"t":53,"v":-0.137},{"t":53.6,"v":-0.058},{"t":54.2,"v":0.015},{"t":54.8,"v":0.039},{"t":55.6,"v":0.057},{"t":56,"v":0.118},{"t":56.6,"v":0.051},{"t":57.2,"v":0.027},{"t":58,"v":-0.01},{"t":58.4,"v":0.045},{"t":58.8,"v":-0.01},{"t":59.4,"v":-0.083},{"t":60,"v":-0.058}],
    "r7000": [{"t":0,"v":0.167},{"t":0.4,"v":0.209},{"t":0.8,"v":0.161},{"t":1.4,"v":0.002},{"t":2,"v":-0.022},{"t":2.6,"v":-0.058},{"t":3.4,"v":-0.083},{"t":4,"v":-0.058},{"t":4.4,"v":-0.034},{"t":5,"v":-0.131},{"t":5.4,"v":-0.277},{"t":5.6,"v":-0.35},{"t":6,"v":-0.229},{"t":6.6,"v":-0.034},{"t":7.2,"v":0.112},{"t":7.6,"v":0.173},{"t":8,"v":0.203},{"t":8.4,"v":0.136},{"t":8.8,"v":0.015},{"t":9.2,"v":0.088},{"t":9.8,"v":0.234},{"t":10.2,"v":0.416},{"t":10.4,"v":0.418},{"t":10.8,"v":0.319},{"t":11.2,"v":0.088},{"t":11.8,"v":-0.071},{"t":12.4,"v":-0.192},{"t":13,"v":-0.265},{"t":13.6,"v":-0.241},{"t":14.2,"v":-0.107},{"t":14.8,"v":0.027},{"t":15.4,"v":0.027},{"t":16.2,"v":0.063},{"t":16.8,"v":0.148},{"t":17.6,"v":0.155},{"t":18.4,"v":0.155},{"t":19,"v":0.1},{"t":19.6,"v":-0.01},{"t":20.4,"v":-0.077},{"t":21,"v":-0.089},{"t":21.8,"v":-0.083},{"t":22.6,"v":-0.071},{"t":23.4,"v":-0.052},{"t":24.2,"v":-0.046},{"t":24.8,"v":-0.01},{"t":25.6,"v":0.088},{"t":26.4,"v":0.106},{"t":27.2,"v":0.124},{"t":28,"v":0.127},{"t":28.6,"v":0.1},{"t":29.4,"v":0.015},{"t":30.2,"v":-0.071},{"t":31,"v":-0.131},{"t":31.8,"v":-0.162},{"t":32.4,"v":-0.131},{"t":33,"v":-0.058},{"t":33.6,"v":-0.083},{"t":34.2,"v":-0.174},{"t":34.6,"v":0.015},{"t":35,"v":0.234},{"t":35.4,"v":0.428},{"t":35.8,"v":0.404},{"t":36.2,"v":0.258},{"t":36.8,"v":0.039},{"t":37.4,"v":-0.095},{"t":38,"v":-0.144},{"t":38.8,"v":-0.174},{"t":39.4,"v":-0.131},{"t":40,"v":-0.058},{"t":40.6,"v":0.002},{"t":41.2,"v":0.021},{"t":41.8,"v":-0.01},{"t":42.6,"v":0.015},{"t":43.2,"v":0.1},{"t":43.8,"v":0.118},{"t":44.6,"v":0.075},{"t":45.4,"v":0.039},{"t":46.2,"v":0.002},{"t":47,"v":-0.034},{"t":47.8,"v":-0.071},{"t":48.4,"v":-0.077},{"t":49.2,"v":-0.058},{"t":50,"v":-0.01},{"t":50.8,"v":0.051},{"t":51.6,"v":0.1},{"t":52.2,"v":0.106},{"t":53,"v":0.075},{"t":53.6,"v":0.027},{"t":54.4,"v":-0.046},{"t":55,"v":-0.089},{"t":55.6,"v":-0.107},{"t":56.2,"v":-0.089},{"t":57,"v":-0.064},{"t":57.6,"v":-0.034},{"t":58.2,"v":0.002},{"t":58.8,"v":0.063},{"t":59.4,"v":0.106},{"t":60,"v":0.112}],
    "b7000": [{"t":0,"v":0.057},{"t":0.4,"v":0.021},{"t":1,"v":0.002},{"t":1.6,"v":-0.034},{"t":2.4,"v":0.039},{"t":3,"v":0.045},{"t":3.6,"v":0.033},{"t":4.4,"v":0.063},{"t":5,"v":0.045},{"t":5.6,"v":0.015},{"t":6,"v":-0.119},{"t":6.6,"v":-0.058},{"t":7.2,"v":-0.022},{"t":7.6,"v":-0.01},{"t":8.2,"v":0.075},{"t":8.6,"v":0.002},{"t":9,"v":0.027},{"t":9.6,"v":0.112},{"t":10.2,"v":0.148},{"t":10.8,"v":0.124},{"t":11.4,"v":0.1},{"t":12,"v":0.088},{"t":12.6,"v":0.039},{"t":13.2,"v":-0.058},{"t":13.8,"v":-0.083},{"t":14.4,"v":-0.064},{"t":15,"v":-0.022},{"t":15.6,"v":-0.022},{"t":16.2,"v":-0.034},{"t":17,"v":0.009},{"t":17.4,"v":0.015},{"t":18,"v":-0.028},{"t":18.8,"v":-0.028},{"t":19.6,"v":-0.071},{"t":20,"v":-0.083},{"t":20.8,"v":-0.046},{"t":21.4,"v":-0.01},{"t":22.2,"v":0.039},{"t":23,"v":0.057},{"t":23.8,"v":0.039},{"t":24.4,"v":-0.01},{"t":25,"v":-0.077},{"t":25.6,"v":0.015},{"t":26.2,"v":0.075},{"t":26.8,"v":0.027},{"t":27.6,"v":0.021},{"t":28.4,"v":-0.01},{"t":29.2,"v":-0.046},{"t":30,"v":-0.071},{"t":30.8,"v":-0.064},{"t":31.6,"v":-0.064},{"t":32.2,"v":-0.083},{"t":32.8,"v":-0.089},{"t":33.4,"v":-0.058},{"t":34,"v":-0.095},{"t":34.6,"v":0.112},{"t":34.8,"v":0.118},{"t":35.4,"v":0.075},{"t":36,"v":0.033},{"t":36.8,"v":0.063},{"t":37.4,"v":0.045},{"t":38,"v":-0.01},{"t":38.6,"v":-0.034},{"t":39.2,"v":-0.01},{"t":40,"v":0.075},{"t":40.6,"v":0.136},{"t":41.4,"v":0.136},{"t":42,"v":0.112},{"t":42.6,"v":0.088},{"t":43.2,"v":0.015},{"t":43.8,"v":-0.034},{"t":44.4,"v":-0.046},{"t":45,"v":-0.04},{"t":45.6,"v":-0.046},{"t":46.2,"v":-0.01},{"t":46.8,"v":0.063},{"t":47.2,"v":0.015},{"t":47.6,"v":-0.046},{"t":48.2,"v":-0.022},{"t":49,"v":-0.004},{"t":49.6,"v":0.015},{"t":50.4,"v":-0.01},{"t":51.2,"v":0.002},{"t":52,"v":0.027},{"t":52.6,"v":0.051},{"t":53.4,"v":-0.01},{"t":54,"v":-0.058},{"t":54.6,"v":-0.089},{"t":55.2,"v":-0.064},{"t":55.8,"v":-0.071},{"t":56.4,"v":0.002},{"t":57,"v":-0.034},{"t":57.6,"v":0.015},{"t":58.4,"v":0.017},{"t":59.2,"v":0.039},{"t":60,"v":0.057}],
    "r10000": [{"t":0,"v":0.082},{"t":0.6,"v":0.094},{"t":1.2,"v":0.033},{"t":1.8,"v":0.051},{"t":2.4,"v":0.088},{"t":2.8,"v":0.039},{"t":3.2,"v":-0.071},{"t":3.6,"v":-0.229},{"t":4,"v":-0.259},{"t":4.4,"v":-0.131},{"t":4.8,"v":0.063},{"t":5.2,"v":-0.058},{"t":5.6,"v":-0.326},{"t":6.2,"v":-0.484},{"t":6.6,"v":-0.35},{"t":7.2,"v":0.039},{"t":7.6,"v":0.27},{"t":8,"v":0.307},{"t":8.4,"v":0.27},{"t":8.8,"v":0.355},{"t":9.2,"v":0.453},{"t":9.6,"v":0.404},{"t":10,"v":0.234},{"t":10.4,"v":0.1},{"t":10.8,"v":0.015},{"t":11.2,"v":-0.131},{"t":11.6,"v":-0.29},{"t":12,"v":-0.375},{"t":12.6,"v":-0.204},{"t":13.2,"v":-0.083},{"t":13.8,"v":-0.095},{"t":14.4,"v":-0.131},{"t":14.8,"v":-0.034},{"t":15.4,"v":0.021},{"t":15.8,"v":0.021},{"t":16.4,"v":0.124},{"t":16.8,"v":0.209},{"t":17.2,"v":0.367},{"t":17.6,"v":0.319},{"t":18,"v":0.185},{"t":18.6,"v":0.075},{"t":19.2,"v":0.015},{"t":19.6,"v":-0.071},{"t":20.2,"v":-0.144},{"t":20.8,"v":-0.071},{"t":21.4,"v":-0.089},{"t":22,"v":-0.119},{"t":22.6,"v":-0.083},{"t":23.2,"v":-0.064},{"t":23.8,"v":-0.071},{"t":24.4,"v":-0.046},{"t":25,"v":-0.022},{"t":25.6,"v":0.027},{"t":26.2,"v":0.1},{"t":26.8,"v":0.124},{"t":27.4,"v":0.1},{"t":28.2,"v":0.112},{"t":28.8,"v":0.148},{"t":29.4,"v":0.088},{"t":30.2,"v":-0.058},{"t":30.4,"v":-0.089},{"t":31,"v":-0.01},{"t":31.6,"v":0.1},{"t":32,"v":0.124},{"t":32.6,"v":0.039},{"t":33.2,"v":-0.363},{"t":33.4,"v":-0.521},{"t":33.8,"v":-0.363},{"t":34.2,"v":-0.01},{"t":34.6,"v":0.136},{"t":35.2,"v":0.185},{"t":35.6,"v":0.191},{"t":36.4,"v":0.161},{"t":37,"v":0.142},{"t":37.6,"v":0.112},{"t":38.2,"v":-0.01},{"t":38.8,"v":-0.131},{"t":39.2,"v":-0.15},{"t":39.6,"v":-0.01},{"t":40,"v":0.039},{"t":40.4,"v":-0.01},{"t":41,"v":-0.107},{"t":41.6,"v":-0.131},{"t":42.2,"v":-0.058},{"t":42.6,"v":0.002},{"t":43.2,"v":0.136},{"t":43.6,"v":0.234},{"t":44,"v":0.276},{"t":44.4,"v":0.209},{"t":44.8,"v":0.039},{"t":45.4,"v":-0.107},{"t":46,"v":-0.18},{"t":46.6,"v":-0.131},{"t":47.2,"v":-0.119},{"t":47.6,"v":-0.144},{"t":48.2,"v":-0.071},{"t":48.6,"v":0.075},{"t":49,"v":0.161},{"t":49.4,"v":0.185},{"t":49.8,"v":0.124},{"t":50.4,"v":0.039},{"t":51,"v":0.136},{"t":51.4,"v":0.142},{"t":51.8,"v":0.075},{"t":52.2,"v":0.045},{"t":52.8,"v":0.082},{"t":53.4,"v":0.015},{"t":54,"v":-0.083},{"t":54.6,"v":-0.107},{"t":55.2,"v":-0.119},{"t":55.8,"v":-0.083},{"t":56.4,"v":-0.083},{"t":57,"v":-0.095},{"t":57.6,"v":-0.046},{"t":58.2,"v":0.002},{"t":59,"v":0.039},{"t":59.6,"v":0.045},{"t":60,"v":0.045}],
    "b10000": [{"t":0,"v":-0.016},{"t":0.4,"v":0.088},{"t":0.8,"v":-0.01},{"t":1.2,"v":0.002},{"t":1.6,"v":0.1},{"t":2,"v":0.148},{"t":2.4,"v":0.063},{"t":3,"v":-0.028},{"t":3.4,"v":-0.046},{"t":3.8,"v":0.039},{"t":4,"v":0.118},{"t":4.2,"v":0.027},{"t":4.6,"v":0.088},{"t":5.2,"v":0.221},{"t":5.6,"v":0.148},{"t":6,"v":0.027},{"t":6.6,"v":0.027},{"t":7.2,"v":0.063},{"t":7.6,"v":0.173},{"t":8,"v":0.148},{"t":8.4,"v":0.088},{"t":8.8,"v":0.075},{"t":9.2,"v":0.063},{"t":9.8,"v":0.009},{"t":10.4,"v":0.027},{"t":11,"v":-0.034},{"t":11.6,"v":-0.095},{"t":12,"v":-0.077},{"t":12.6,"v":-0.022},{"t":13.2,"v":-0.034},{"t":13.8,"v":-0.016},{"t":14.4,"v":-0.022},{"t":15,"v":0.015},{"t":15.6,"v":0.063},{"t":16.2,"v":0.136},{"t":16.8,"v":0.148},{"t":17.4,"v":0.136},{"t":18,"v":0.075},{"t":18.6,"v":0.015},{"t":19.2,"v":-0.046},{"t":19.8,"v":-0.058},{"t":20.6,"v":-0.034},{"t":21.4,"v":0.015},{"t":22,"v":0.051},{"t":22.6,"v":0.039},{"t":23.2,"v":0.057},{"t":24,"v":0.027},{"t":24.6,"v":0.039},{"t":25.2,"v":0.051},{"t":26,"v":0.027},{"t":26.8,"v":0.002},{"t":27.6,"v":-0.016},{"t":28.4,"v":0.002},{"t":29,"v":0.015},{"t":29.6,"v":-0.016},{"t":30.4,"v":-0.034},{"t":31.2,"v":0.015},{"t":32,"v":0.075},{"t":32.6,"v":-0.01},{"t":33.2,"v":-0.107},{"t":33.8,"v":-0.144},{"t":34.2,"v":-0.095},{"t":34.8,"v":-0.119},{"t":35.4,"v":0.039},{"t":36,"v":0.124},{"t":36.4,"v":0.088},{"t":37,"v":0.015},{"t":37.6,"v":-0.01},{"t":38.4,"v":-0.022},{"t":39.2,"v":-0.04},{"t":39.6,"v":0.039},{"t":40,"v":-0.034},{"t":40.6,"v":-0.034},{"t":41.2,"v":-0.095},{"t":41.8,"v":-0.046},{"t":42.4,"v":-0.022},{"t":43,"v":-0.016},{"t":43.6,"v":0.002},{"t":44.4,"v":-0.01},{"t":45,"v":-0.046},{"t":45.8,"v":-0.022},{"t":46.6,"v":-0.022},{"t":47.4,"v":-0.071},{"t":48,"v":-0.101},{"t":48.6,"v":-0.034},{"t":49.2,"v":-0.01},{"t":49.8,"v":-0.022},{"t":50.4,"v":-0.022},{"t":51,"v":-0.04},{"t":51.8,"v":0.051},{"t":52.4,"v":-0.04},{"t":53,"v":-0.046},{"t":53.6,"v":0.015},{"t":54.2,"v":-0.046},{"t":54.8,"v":-0.058},{"t":55.6,"v":-0.071},{"t":56.4,"v":-0.083},{"t":57.2,"v":-0.083},{"t":58,"v":-0.077},{"t":58.6,"v":-0.058},{"t":59.2,"v":-0.04},{"t":60,"v":-0.028}]
  },
  "config": {
    "font": "Liberation Sans",
    "view": {"stroke": "#262626", "strokeWidth": 1.5},
    "line": {"strokeJoin": "round", "strokeCap": "round"},
    "axis": {"labelFont": "Liberation Sans", "labelFontSize": 29, "labelColor": "#262626", "grid": true, "gridColor": "#dedede", "gridWidth": 1.2, "ticks": true, "tickSize": -7, "tickColor": "#262626", "tickWidth": 1.2, "domain": false, "titleFont": "Liberation Sans", "titleFontSize": 30, "titleFontWeight": "normal", "titleColor": "#262626"},
    "title": {"font": "Liberation Sans", "fontSize": 34, "fontWeight": "bold", "color": "#000000", "offset": 8}
  }
}
